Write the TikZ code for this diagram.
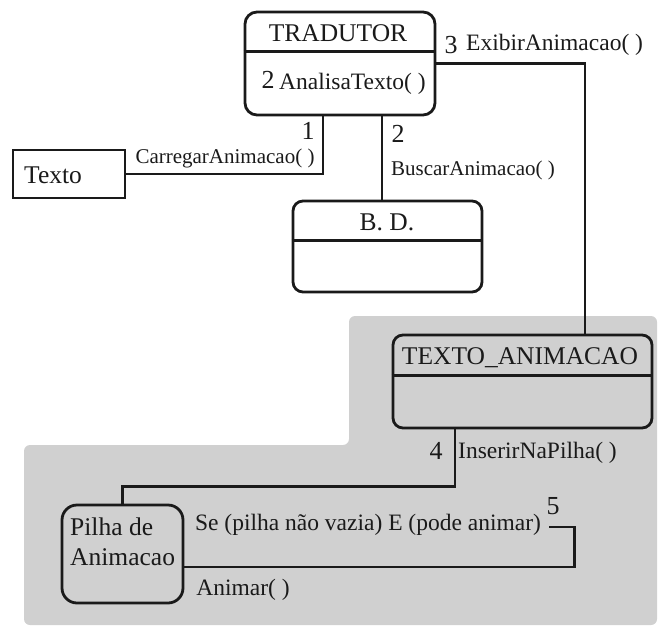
\documentclass[tikz,border=0pt]{standalone}
\usepackage{fontspec}
\setmainfont{Liberation Serif}
\definecolor{ink}{HTML}{1A1A1A}
\definecolor{panel}{HTML}{D0D0D0}
\begin{document}
\begin{tikzpicture}[x=1pt,y=-1pt,
  classbox/.style={draw=ink, line width=2.8pt, rounded corners=12pt, inner sep=0pt},
  plainbox/.style={draw=ink, line width=2.8pt, inner sep=0pt},
  link/.style={draw=ink, line width=2.8pt},
  title/.style={text=ink, inner sep=0pt, font=\fontsize{25.5}{30}\selectfont},
  lbl/.style={text=ink, inner sep=0pt, font=\fontsize{23.5}{27}\selectfont},
  smalllbl/.style={text=ink, inner sep=0pt, font=\fontsize{21}{25}\selectfont},
  num/.style={text=ink, inner sep=0pt, font=\fontsize{26}{30}\selectfont}]
\useasboundingbox (0,0) rectangle (661,630);

% shaded area holding the animation objects
\fill[panel, rounded corners=6pt] (349,316) -- (657,316) -- (657,625) -- (24,625)
  -- (24,445) -- (349,445) -- cycle;

% classes
\node[classbox, fill=white, minimum width=190pt, minimum height=103pt] (trad) at (340,63.5) {};
\draw[link] ([yshift=-41pt]trad.north west) -- ([yshift=-41pt]trad.north east);
\node[title] (tradname) at (338,33) {TRADUTOR};
\node[num] (n2a) at (268,80) {2};
\node[lbl, anchor=west] (analisa) at (279,84) {AnalisaTexto( )};

\node[plainbox, fill=white, minimum width=112pt, minimum height=48pt] (texto) at (69,174) {};
\node[title, anchor=west] (textoname) at (24,175) {Texto};

\node[classbox, rounded corners=10pt, fill=white, minimum width=189pt, minimum height=91pt] (bd) at (387.5,246.5) {};
\draw[link] ([yshift=-41pt]bd.north west) -- ([yshift=-41pt]bd.north east);
\node[title] (bdname) at (387,222) {B. D.};

\node[classbox, rounded corners=10pt, minimum width=259pt, minimum height=93pt] (ta) at (522.5,381.5) {};
\draw[link] ([yshift=-42pt]ta.north west) -- ([yshift=-42pt]ta.north east);
\node[title] (taname) at (520,358) {TEXTO\_ANIMACAO};

\node[classbox, rounded corners=15pt, minimum width=121pt, minimum height=98pt] (pilha) at (122.5,554) {};
\node[title, anchor=north west, align=left] (pilhaname) at (70,518) {Pilha de\\Animacao};

% messages
\draw[link] (trad.east) -| ([xshift=62.5pt]ta.north);
\draw[link] ([xshift=-17pt]trad.south) |- (texto.east);
\draw[link] ([xshift=42pt]trad.south) -- ([xshift=-5.5pt]bd.north);
\draw[link] ([xshift=-67.5pt]ta.south) -- ++(0,57) -| (pilha.north);
\draw[link] ([yshift=-13pt]pilha.east) -- ++(390,0) -- ++(0,-40) -- ++(-25,0);

% message labels
\node[num] (n3) at (451,45) {3};
\node[lbl, anchor=west] (exibir) at (466,45) {ExibirAnimacao( )};
\node[num] (n1) at (308,131) {1};
\node[smalllbl] (carregar) at (225,158) {CarregarAnimacao( )};
\node[num] (n2b) at (398,134) {2};
\node[smalllbl] (buscar) at (473,170) {BuscarAnimacao( )};
\node[num] (n4) at (436,451) {4};
\node[lbl, anchor=west] (inserir) at (458,453) {InserirNaPilha( )};
\node[num] (n5) at (553,506) {5};
\node[lbl] (cond) at (368,525) {Se (pilha não vazia) E (pode animar)};
\node[lbl] (animar) at (243,590) {Animar( )};
\end{tikzpicture}
\end{document}
